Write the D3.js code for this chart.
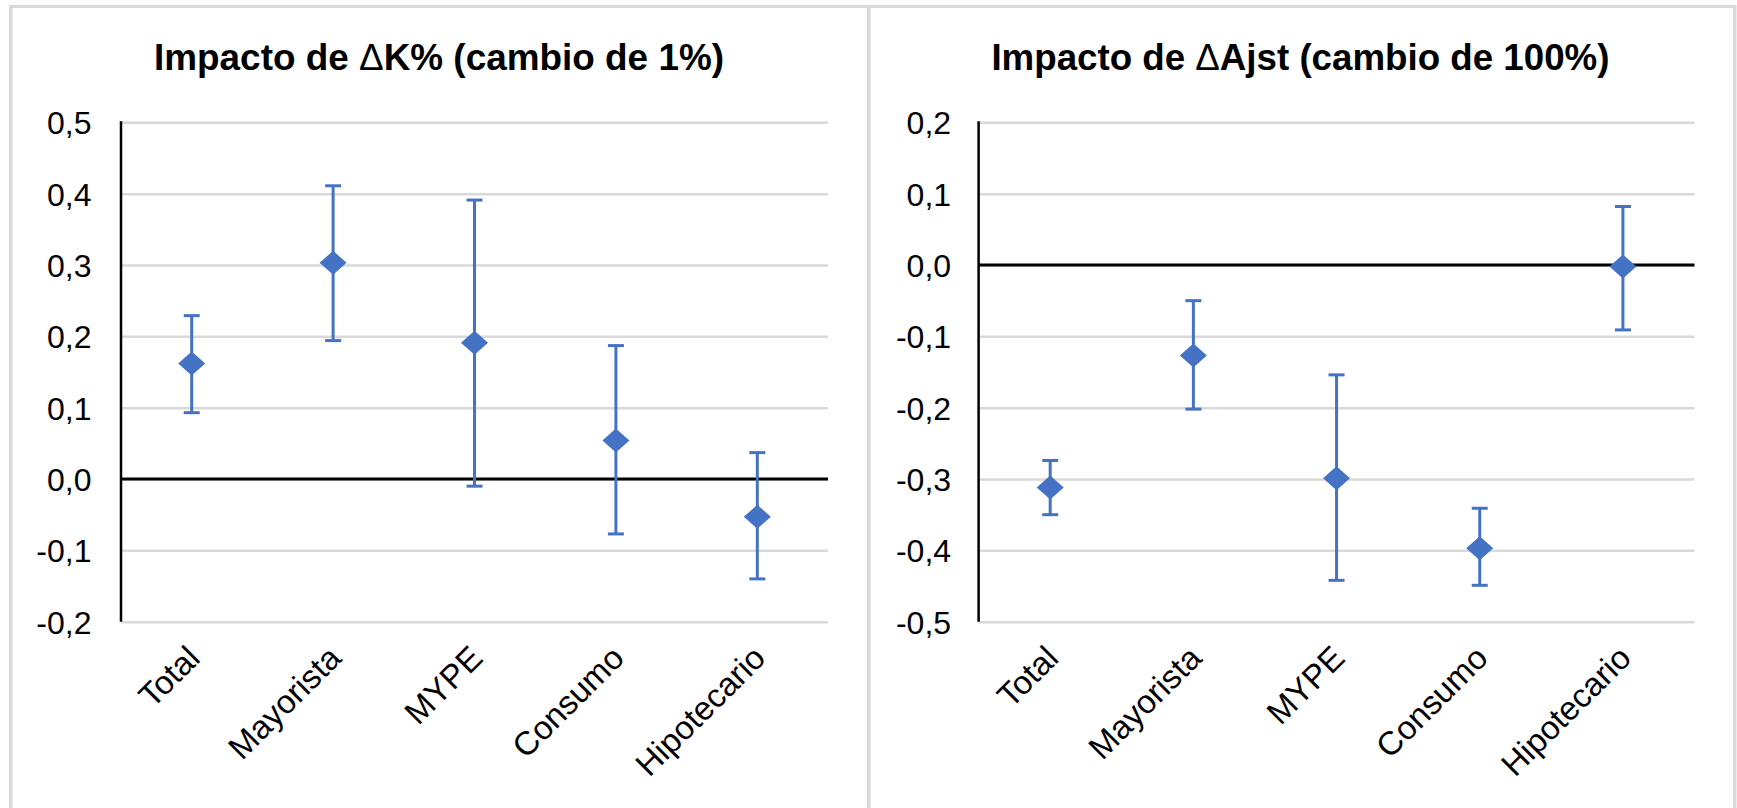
<!DOCTYPE html>
<html lang="es">
<head>
<meta charset="utf-8">
<title>Impacto de ΔK% y ΔAjst</title>
<script src="https://cdn.jsdelivr.net/npm/d3@7"></script>
<style>
  body { margin: 0; background: #fff; }
  svg text { font-family: "Liberation Sans", Arial, sans-serif; fill: #000; }
</style>
</head>
<body>
<div id="chart"></div>
<script>
// categories and values
var categories = ["Total", "Mayorista", "MYPE", "Consumo", "Hipotecario"];

var capitalEstimate = [0.162, 0.303, 0.191, 0.054, -0.053];
var capitalLower    = [0.093, 0.194, -0.010, -0.077, -0.140];
var capitalUpper    = [0.229, 0.411, 0.391, 0.187, 0.037];
var capitalTicks    = [-0.2, -0.1, 0, 0.1, 0.2, 0.3, 0.4, 0.5];

var ajusteEstimate = [-0.312, -0.127, -0.299, -0.397, -0.002];
var ajusteLower    = [-0.350, -0.202, -0.442, -0.449, -0.091];
var ajusteUpper    = [-0.274, -0.050, -0.154, -0.341, 0.082];
var ajusteTicks    = [-0.5, -0.4, -0.3, -0.2, -0.1, 0, 0.1, 0.2];

var w = 1737, h = 808;
var blue = "#4472C4", gridGray = "#d9d9d9";

var locale = d3.formatLocale({decimal: ",", thousands: ".", grouping: [3], currency: ["", ""], minus: "-"});
var fmt = locale.format(".1f");

var svg = d3.select("#chart").append("svg")
    .attr("width", w)
    .attr("height", h);

svg.append("rect").attr("width", w).attr("height", h).attr("fill", "#fff");

// panel frames
svg.append("rect").attr("x", 9).attr("y", 5).attr("width", 1727).attr("height", 3).attr("fill", gridGray);
svg.append("rect").attr("x", 9).attr("y", 5).attr("width", 3.5).attr("height", h).attr("fill", gridGray);
svg.append("rect").attr("x", 867).attr("y", 5).attr("width", 3.5).attr("height", h).attr("fill", gridGray);
svg.append("rect").attr("x", 1733).attr("y", 5).attr("width", 3.5).attr("height", h).attr("fill", gridGray);

function drawPanel(opt) {
  var x = d3.scaleBand().domain(categories).range([opt.x0, opt.x1]);
  var y = d3.scaleLinear().domain(d3.extent(opt.ticks)).range([621.7, 122.3]);
  var g = svg.append("g");

  // title
  var title = g.append("text")
      .attr("x", opt.titleX)
      .attr("y", 69.5)
      .attr("text-anchor", "middle")
      .attr("font-size", 36.5)
      .attr("font-weight", "bold")
      .attr("textLength", opt.titleW)
      .attr("lengthAdjust", "spacingAndGlyphs");
  title.append("tspan").text("Impacto de ");
  title.append("tspan").attr("font-weight", "normal").text("\u0394");
  title.append("tspan").text(opt.titleRest);

  // gridlines + tick labels
  var axis = g.append("g")
      .attr("transform", "translate(" + opt.x0 + ",0)")
      .call(d3.axisLeft(y)
        .tickValues(opt.ticks)
        .tickSize(-(opt.x1 - opt.x0))
        .tickPadding(opt.pad)
        .tickFormat(fmt));
  axis.select(".domain").remove();
  axis.selectAll(".tick line")
      .attr("stroke", gridGray)
      .attr("stroke-width", 2.5);
  axis.selectAll(".tick text")
      .attr("dy", "0.36em")
      .attr("font-size", 32)
      .attr("font-family", "Liberation Sans, Arial, sans-serif")
      .attr("fill", "#000");

  // zero line and vertical axis
  g.append("line")
      .attr("x1", opt.x0).attr("x2", opt.x1)
      .attr("y1", y(0)).attr("y2", y(0))
      .attr("stroke", "#000").attr("stroke-width", 3);
  g.append("line")
      .attr("x1", opt.x0).attr("x2", opt.x0)
      .attr("y1", y.range()[1] - 1).attr("y2", y.range()[0])
      .attr("stroke", "#000").attr("stroke-width", 2.5);

  // category labels
  g.selectAll(".cat")
      .data(categories)
      .enter()
      .append("text")
      .attr("class", "cat")
      .attr("text-anchor", "end")
      .attr("font-size", 33)
      .attr("transform", function(d) {
        return "translate(" + (x(d) + x.bandwidth() / 2 + 10) + ",660) rotate(-45)";
      })
      .text(function(d) { return d; });

  var cx = function(d, i) { return x(categories[i]) + x.bandwidth() / 2; };

  // error bars
  var bars = g.selectAll(".err")
      .data(opt.est)
      .enter()
      .append("g")
      .attr("class", "err")
      .attr("stroke", blue)
      .attr("stroke-width", 3);
  bars.append("line")
      .attr("x1", cx).attr("x2", cx)
      .attr("y1", function(d, i) { return y(opt.lo[i]); })
      .attr("y2", function(d, i) { return y(opt.hi[i]); });
  bars.append("line")
      .attr("x1", function(d, i) { return cx(d, i) - 8; })
      .attr("x2", function(d, i) { return cx(d, i) + 8; })
      .attr("y1", function(d, i) { return y(opt.lo[i]); })
      .attr("y2", function(d, i) { return y(opt.lo[i]); });
  bars.append("line")
      .attr("x1", function(d, i) { return cx(d, i) - 8; })
      .attr("x2", function(d, i) { return cx(d, i) + 8; })
      .attr("y1", function(d, i) { return y(opt.hi[i]); })
      .attr("y2", function(d, i) { return y(opt.hi[i]); });

  // diamonds
  g.selectAll(".pt")
      .data(opt.est)
      .enter()
      .append("path")
      .attr("class", "pt")
      .attr("fill", blue)
      .attr("d", function(d, i) {
        var px = cx(d, i), py = y(d);
        return "M" + (px - 13.5) + "," + py + "L" + px + "," + (py - 12) +
               "L" + (px + 13.5) + "," + py + "L" + px + "," + (py + 12) + "Z";
      });
}

drawPanel({
  x0: 121, x1: 828, ticks: capitalTicks, pad: 29.5,
  est: capitalEstimate, lo: capitalLower, hi: capitalUpper,
  titleX: 439, titleW: 570, titleRest: "K% (cambio de 1%)"
});

drawPanel({
  x0: 978.6, x1: 1694.5, ticks: ajusteTicks, pad: 27.5,
  est: ajusteEstimate, lo: ajusteLower, hi: ajusteUpper,
  titleX: 1300.4, titleW: 618, titleRest: "Ajst (cambio de 100%)"
});
</script>
</body>
</html>
